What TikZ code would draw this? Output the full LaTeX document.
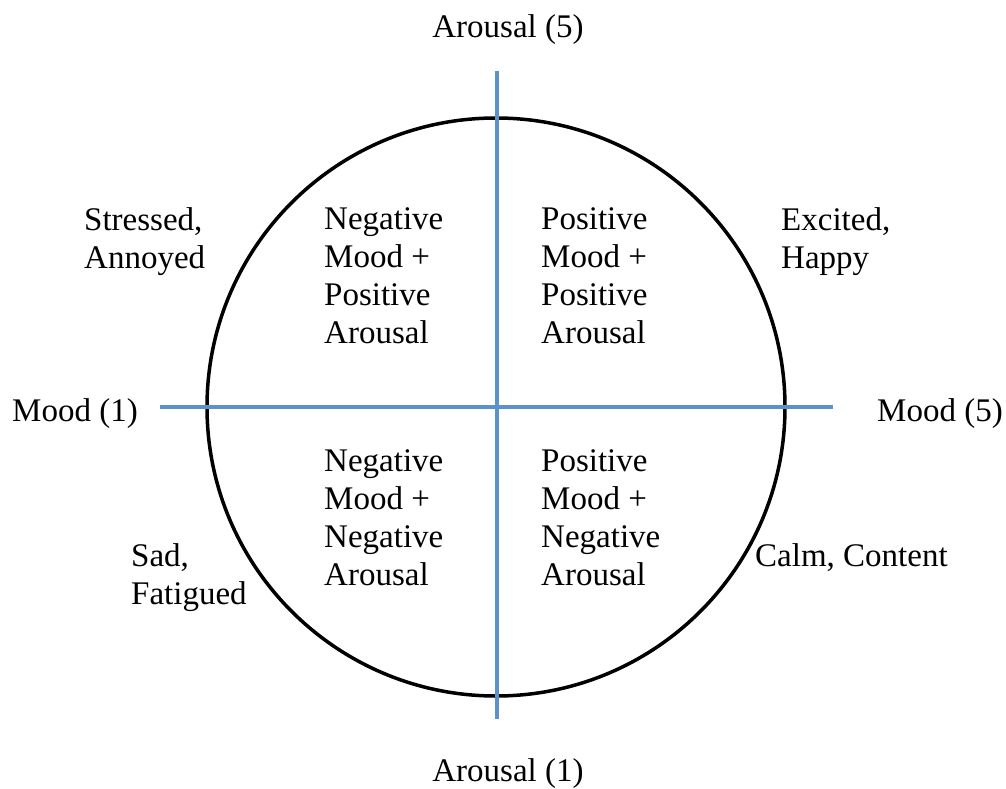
\documentclass[tikz,border=0pt]{standalone}
\usepackage{fontspec}
\setmainfont{Liberation Serif}
\definecolor{axisblue}{HTML}{5B93C8}
\begin{document}
\begin{tikzpicture}[x=1pt,y=-1pt,
  lbl/.style={inner sep=0pt, align=left, anchor=base west, font=\fontsize{33}{37.7}\selectfont},
  axis/.style={draw=axisblue, line width=4pt},
  ring/.style={draw=black, line width=3.5pt}]
\useasboundingbox (0,0) rectangle (1006,789);
\node[ring, circle, minimum size=578pt, inner sep=0pt] (c) at (496,407) {};
\coordinate (atop) at (497,71);
\coordinate (abot) at (497,719);
\coordinate (mleft) at (160,407);
\coordinate (mright) at (833,407);
\draw[axis] (atop) -- (abot);
\draw[axis] (mleft) -- (mright);
\node[lbl, anchor=base] (a5) at (508,38) {Arousal (5)};
\node[lbl, anchor=base] (a1) at (508,781) {Arousal (1)};
\node[lbl, anchor=base west] (m1) at (12,421) {Mood (1)};
\node[lbl, anchor=base west] (m5) at (877,421) {Mood (5)};
\node[lbl] (sa) at (84,268) {Stressed,\\Annoyed};
\node[lbl] (eh) at (781,268) {Excited,\\Happy};
\node[lbl] (nw) at (324,343) {Negative\\Mood +\\Positive\\Arousal};
\node[lbl] (ne) at (541,343) {Positive\\Mood +\\Positive\\Arousal};
\node[lbl] (sw) at (324,585) {Negative\\Mood +\\Negative\\Arousal};
\node[lbl] (se) at (541,585) {Positive\\Mood +\\Negative\\Arousal};
\node[lbl] (sf) at (131,604) {Sad,\\Fatigued};
\node[lbl] (cc) at (755,566) {Calm, Content};
\end{tikzpicture}
\end{document}
